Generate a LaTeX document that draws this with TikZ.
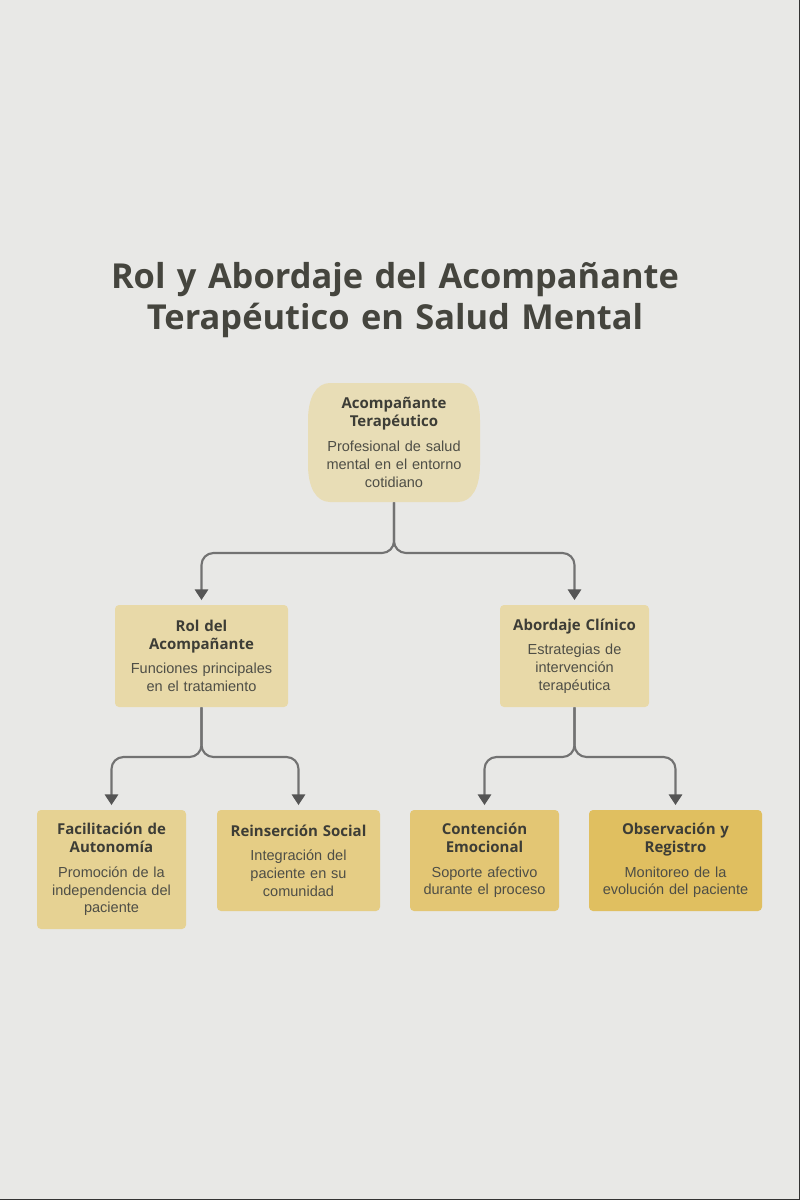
\documentclass[tikz,border=0pt]{standalone}
\usepackage{fontspec}
\setmainfont{Liberation Sans}
\newfontfamily\headfont{Open Sans}
\usetikzlibrary{arrows.meta}
\definecolor{bgc}{HTML}{E8E8E6}
\definecolor{titc}{HTML}{45453E}
\definecolor{headc}{HTML}{3D3D36}
\definecolor{bodyc}{HTML}{4E4E46}
\definecolor{linec}{HTML}{727272}
\definecolor{tipc}{HTML}{555555}
\definecolor{c0}{HTML}{E8DDB6}
\definecolor{c1}{HTML}{E8D9A8}
\definecolor{c2}{HTML}{E6D293}
\definecolor{c3}{HTML}{E5CD85}
\definecolor{c4}{HTML}{E3C674}
\definecolor{c5}{HTML}{E0BF60}
\tikzset{
  box/.style 2 args={minimum width={#1*0.75pt}, minimum height={#2*0.75pt}, inner sep=0pt, rounded corners=3pt, align=center, text=bodyc, font=\fontsize{10.9}{13.4}\selectfont},
  conn/.style={draw=linec, line width=1.6pt, rounded corners=9pt},
  arr/.style={conn, -{Triangle[width=10pt,length=8pt,color=tipc]}, shorten >=3.5pt},
}
\newcommand{\hd}[1]{{\headfont\bfseries\fontsize{11.25}{13.5}\selectfont\color{headc}#1\par}\vspace{5pt}}
\begin{document}
\begin{tikzpicture}[x=0.75pt,y=-0.75pt]
\useasboundingbox (0,0) rectangle (800,1200);
\fill[bgc] (0,0) rectangle (800,1200);
\draw[black!80, line width=0.8pt] (799.6,0) -- (799.6,1199.6) -- (0,1199.6);
\node[text width=540pt, inner sep=0pt, align=center, text=titc, font=\headfont\bfseries\fontsize{25.8}{30.75}\selectfont] (title) at (395,300) {Rol y Abordaje del Acompañante\\Terapéutico en Salud Mental};

\fill[c0] (330,383) -- (458,383) .. controls (472,383) and (480,398) .. (480,420) -- (480,465)
  .. controls (480,487) and (472,502) .. (458,502) -- (330,502)
  .. controls (316,502) and (308,487) .. (308,465) -- (308,420)
  .. controls (308,398) and (316,383) .. (330,383) -- cycle;
\node[box={172}{119}, text width=120pt] (top) at (394,442.5) {\hd{Acompañante\\Terapéutico}Profesional de salud\\mental en el entorno\\cotidiano};

\node[box={173}{102}, text width=121pt, fill=c1] (rol) at (201.5,656) {\hd{Rol del\\Acompañante}Funciones principales\\en el tratamiento};
\node[box={149}{102}, text width=105pt, fill=c1] (abo) at (574.5,656) {\hd{Abordaje Clínico}Estrategias de\\intervención\\terapéutica};

\node[box={149}{119}, text width=105pt, fill=c2] (fac) at (111.5,869.5) {\hd{Facilitación de\\Autonomía}Promoción de la\\independencia del\\paciente};
\node[box={163}{101}, text width=115pt, fill=c3] (rei) at (298.5,860.5) {\hd{Reinserción Social}Integración del\\paciente en su\\comunidad};
\node[box={149}{101}, text width=105pt, fill=c4] (con) at (484.5,860.5) {\hd{Contención\\Emocional}Soporte afectivo\\durante el proceso};
\node[box={173}{101}, text width=125pt, fill=c5] (obs) at (675.5,860.5) {\hd{Observación y\\Registro}Monitoreo de la\\evolución del paciente};

\coordinate (j1) at (394,553);
\coordinate (j2) at (202,757);
\coordinate (j3) at (574,757);
\draw[arr] (top.south) |- (j1 -| rol.north) -- (rol.north);
\draw[arr] (top.south) |- (j1 -| abo.north) -- (abo.north);
\draw[arr] (rol.south) |- (j2 -| fac.north) -- (fac.north);
\draw[arr] (rol.south) |- (j2 -| rei.north) -- (rei.north);
\draw[arr] (abo.south) |- (j3 -| con.north) -- (con.north);
\draw[arr] (abo.south) |- (j3 -| obs.north) -- (obs.north);
\end{tikzpicture}
\end{document}
